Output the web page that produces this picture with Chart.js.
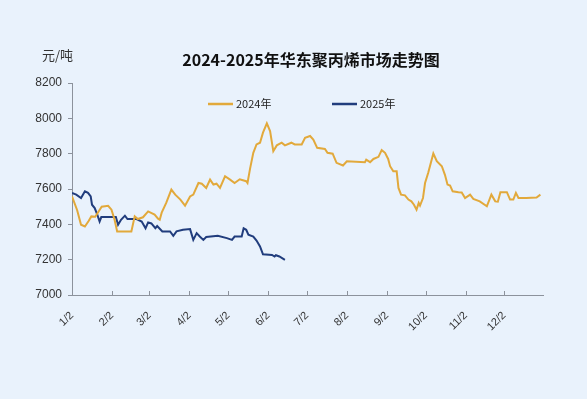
<!DOCTYPE html>
<html>
<head>
<meta charset="utf-8">
<script src="https://cdn.jsdelivr.net/npm/chart.js@4/dist/chart.umd.min.js"></script>
<style>
  html, body { margin: 0; padding: 0; background: #e9f2fc; }
  #wrap { width: 587px; height: 399px; position: relative; }
</style>
</head>
<body>
<div id="wrap"><canvas id="chart"></canvas></div>
<script>
// x positions are days counted from Jan 2
const tickDays = [0, 31, 60, 91, 121, 152, 182, 213, 244, 274, 305, 335];
const tickLabels = ['1/2', '2/2', '3/2', '4/2', '5/2', '6/2', '7/2', '8/2', '9/2', '10/2', '11/2', '12/2'];

const days2024 = [0, 4, 7, 10, 13, 15, 18, 20, 23, 28, 30.6, 33, 35, 46, 48.6, 51, 55, 59, 64, 66.7, 68, 69.5, 73, 77, 80, 84, 87.6,
  91.5, 94, 98, 100.6, 104, 107, 109.6, 112, 114.7, 118.6, 122.5, 126, 130, 135, 136, 138, 140.5, 143, 145.7, 148, 151, 153.5,
  156, 158.7, 162.5, 165, 170, 172.6, 178, 180.6, 184.5, 187, 190, 196, 198, 202, 205, 210, 213, 227, 228, 231, 233.6, 237.5,
  240, 242.6, 245, 246.5, 249, 251.6, 253, 255, 258, 260.7, 263, 265, 267, 268.7, 269.7, 272, 273.6, 276, 280, 282.7, 286.6,
  289, 291, 293, 295, 299.5, 302, 304.6, 308.5, 311, 316, 321.5, 325, 328, 330, 332, 337, 339.5, 342, 344, 346, 352, 360, 363];
const values2024 = [7558, 7480, 7398, 7388, 7420, 7445, 7443, 7466, 7500, 7505, 7483, 7426, 7360, 7360, 7445, 7430, 7440, 7473,
  7455, 7432, 7426, 7466, 7521, 7597, 7568, 7540, 7506, 7558, 7568, 7634, 7630, 7606, 7653, 7625, 7630, 7606, 7672, 7653, 7634,
  7655, 7644, 7634, 7715, 7805, 7852, 7862, 7919, 7972, 7928, 7814, 7847, 7862, 7847, 7862, 7852, 7852, 7890, 7900, 7880, 7833,
  7827, 7805, 7800, 7748, 7733, 7757, 7752, 7766, 7752, 7770, 7782, 7820, 7805, 7770, 7729, 7700, 7700, 7606, 7568, 7564, 7540,
  7530, 7511, 7483, 7521, 7506, 7549, 7634, 7691, 7801, 7757, 7729, 7680, 7625, 7619, 7587, 7582, 7580, 7549, 7568, 7544, 7530,
  7502, 7568, 7530, 7528, 7582, 7582, 7540, 7540, 7578, 7549, 7549, 7552, 7568];

const days2025 = [0, 3.3, 7, 10, 12.4, 14.5, 15.5, 17.6, 19.6, 21.4, 22.7, 34, 35.7, 38, 41, 43, 50, 54, 57, 59, 61.5, 64.6, 66,
  70, 76, 78.5, 81, 86, 91.5, 94, 96.6, 99, 101.8, 104, 113, 120, 124, 126, 131.5, 133, 135, 136.7, 140.5, 143, 145.7, 148, 155,
  157, 158, 160.7, 165];
const values2025 = [7578, 7568, 7549, 7587, 7578, 7558, 7511, 7492, 7455, 7416, 7441, 7441, 7398, 7426, 7449, 7430, 7430, 7416,
  7378, 7411, 7405, 7378, 7390, 7360, 7360, 7335, 7360, 7369, 7373, 7312, 7350, 7331, 7312, 7328, 7335, 7322, 7312, 7331, 7331,
  7378, 7369, 7341, 7331, 7308, 7275, 7230, 7227, 7218, 7225, 7218, 7199];

const gold = '#e2a93b';
const navy = '#213d7d';
const axisGrey = '#8c929c';

function toPoints(xs, ys) {
  return xs.map((x, i) => ({ x: x, y: ys[i] }));
}

const decorations = {
  id: 'decorations',
  afterDraw(chart) {
    const ctx = chart.ctx;
    const xs = chart.scales.x;
    const area = chart.chartArea;
    ctx.save();
    // upward tick marks on the x axis
    ctx.strokeStyle = axisGrey;
    ctx.lineWidth = 1;
    tickDays.forEach(d => {
      const px = Math.round(xs.getPixelForValue(d)) + 0.5;
      ctx.beginPath();
      ctx.moveTo(px, area.bottom);
      ctx.lineTo(px, area.bottom - 4);
      ctx.stroke();
    });
    // title and unit
    ctx.fillStyle = '#111';
    ctx.textBaseline = 'middle';
    ctx.textAlign = 'center';
    ctx.font = 'bold 16px "Noto Sans CJK SC"';
    ctx.fillText('2024-2025年华东聚丙烯市场走势图', 311, 60);
    ctx.textAlign = 'left';
    ctx.fillStyle = '#333';
    ctx.font = '13px "Noto Sans CJK SC"';
    ctx.fillText('元/吨', 42, 55);
    // legend
    const items = [
      { label: chart.data.datasets[0].label, color: gold, x: 208 },
      { label: chart.data.datasets[1].label, color: navy, x: 332 }
    ];
    ctx.font = '11px "Noto Sans CJK SC"';
    items.forEach(it => {
      ctx.strokeStyle = it.color;
      ctx.lineWidth = 2.5;
      ctx.beginPath();
      ctx.moveTo(it.x, 104);
      ctx.lineTo(it.x + 25, 104);
      ctx.stroke();
      ctx.fillStyle = '#222';
      ctx.fillText(it.label, it.x + 28, 104);
    });
    ctx.restore();
  }
};

new Chart(document.getElementById('chart'), {
  type: 'line',
  data: {
    datasets: [
      {
        label: '2024年',
        data: toPoints(days2024, values2024),
        borderColor: gold,
        backgroundColor: gold,
        borderWidth: 2,
        pointRadius: 0,
        tension: 0
      },
      {
        label: '2025年',
        data: toPoints(days2025, values2025),
        borderColor: navy,
        backgroundColor: navy,
        borderWidth: 2,
        pointRadius: 0,
        tension: 0
      }
    ]
  },
  options: {
    responsive: true,
    maintainAspectRatio: false,
    animation: false,
    layout: { padding: { top: 83, right: 44, bottom: 0, left: 0 } },
    plugins: {
      legend: { display: false },
      title: { display: false },
      tooltip: { enabled: false }
    },
    scales: {
      x: {
        type: 'linear',
        min: 0,
        max: 365,
        afterBuildTicks: scale => {
          scale.ticks = tickDays.map(v => ({ value: v }));
        },
        afterFit: scale => { scale.height = 104; },
        grid: { display: false },
        border: { display: true, color: axisGrey, width: 1 },
        ticks: {
          autoSkip: false,
          minRotation: 45,
          maxRotation: 45,
          padding: 6,
          color: '#333',
          font: { family: 'Liberation Sans', size: 11 },
          callback: (v, i) => tickLabels[i]
        }
      },
      y: {
        min: 7000,
        max: 8200,
        afterFit: scale => { scale.width = 72; },
        grid: { drawOnChartArea: false, tickLength: 4, color: axisGrey },
        border: { display: true, color: axisGrey, width: 1 },
        ticks: {
          stepSize: 200,
          padding: 6,
          color: '#333',
          font: { family: 'Liberation Sans', size: 12 },
          callback: v => String(v)
        }
      }
    }
  },
  plugins: [decorations]
});
</script>
</body>
</html>
